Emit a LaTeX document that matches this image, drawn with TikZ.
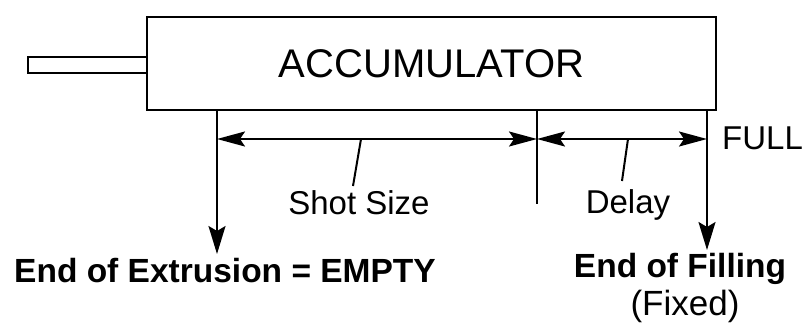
\documentclass[tikz,border=0pt]{standalone}
\usepackage{fontspec}
\setmainfont{Liberation Sans}
\usetikzlibrary{arrows.meta,positioning}
\tikzset{
  %% main accumulator body
  accbox/.style={rectangle,draw,line width=2.8pt,minimum width=569pt,
    minimum height=93pt,inner sep=0pt,font=\fontsize{40}{42}\selectfont},
  %% piston rod
  rodbox/.style={rectangle,draw,line width=2.4pt,minimum width=119pt,
    minimum height=16pt,inner sep=0pt},
  %% arrows
  arr/.style={-{Stealth[length=28pt,width=17pt,inset=5pt]},line width=2pt},
  dimarr/.style={{Stealth[length=28pt,width=15pt,inset=5pt]}-{Stealth[length=28pt,width=15pt,inset=5pt]},line width=2pt},
  ln/.style={line width=2pt},
  lbl/.style={font=\fontsize{33}{36}\selectfont,inner sep=0pt,align=center},
  blbl/.style={font=\fontsize{33.5}{36}\selectfont\bfseries,inner sep=0pt,align=center},
}
\begin{document}
\begin{tikzpicture}[x=1pt,y=-1pt]
  \useasboundingbox (0,0) rectangle (806,322);
  \node[accbox] (acc) at (431.5,63.5) {ACCUMULATOR};
  \node[rodbox] (rod) at (87.5,65) {};

  \coordinate (eTop) at (217,110);
  \coordinate (eTip) at (217,254);
  \coordinate (mTop) at (537,110);
  \coordinate (mBot) at (537,204);
  \coordinate (fTop) at (707,110);
  \coordinate (fTip) at (707,250);
  \coordinate (dL) at (217,139);
  \coordinate (dM) at (537,139);
  \coordinate (dR) at (707,139);
  \coordinate (sA) at (361,139);
  \coordinate (sB) at (353,186);
  \coordinate (yA) at (628,139);
  \coordinate (yB) at (622,181);

  \node[lbl] (shot)  at (359,203) {Shot Size};
  \node[lbl] (delay) at (628,205) {Delay};
  \node[lbl,anchor=west] (full) at (722,138) {FULL};
  \node[blbl] (empty) at (225,271) {End of Extrusion = EMPTY};
  \node[blbl] (fill) at (680,269) {End of Filling};
  \node[lbl,font=\fontsize{35}{36}\selectfont] (fixed) at (685,306) {(Fixed)};

  \draw[arr] (eTop) -- (eTip);
  \draw[arr] (fTop) -- (fTip);
  \draw[ln] (mTop) -- (mBot);
  \draw[dimarr] (dL) -- (dM);
  \draw[dimarr] (dM) -- (dR);
  \draw[ln] (sA) -- (sB);
  \draw[ln] (yA) -- (yB);
\end{tikzpicture}
\end{document}
